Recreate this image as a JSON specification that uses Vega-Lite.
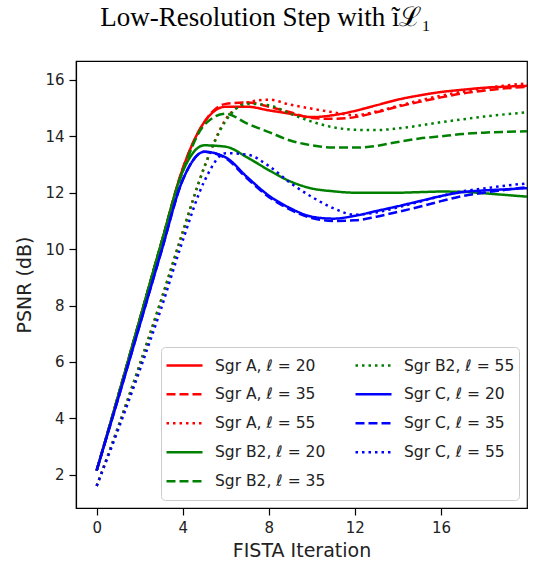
{
  "$schema": "https://vega.github.io/schema/vega-lite/v6.json",
  "autosize": {"type": "none"},
  "width": 451,
  "height": 447,
  "padding": {"left": 76, "top": 61, "right": 10, "bottom": 61},
  "title": {
    "text": "Low-Resolution Step with ĩℒ₁",
    "font": "Liberation Serif",
    "fontSize": 27,
    "fontWeight": "normal",
    "color": "#000000",
    "anchor": "middle",
    "frame": "group",
    "baseline": "bottom",
    "offset": 2,
    "dx": -36
  },
  "config": {
    "view": {"stroke": "#000000", "strokeWidth": 1.2},
    "axis": {
      "grid": false,
      "domainColor": "#000000",
      "domainWidth": 1.2,
      "tickColor": "#000000",
      "tickWidth": 1.2,
      "tickSize": 7,
      "labelPadding": 5,
      "labelFont": "DejaVu Sans",
      "labelFontSize": 15,
      "labelColor": "#222222",
      "titleFont": "DejaVu Sans",
      "titleFontSize": 19,
      "titleFontWeight": "normal",
      "titleColor": "#222222"
    },
    "legend": {
      "labelFont": "DejaVu Sans",
      "labelFontSize": 15.5,
      "labelColor": "#222222"
    }
  },
  "data": {
    "values": [
      {"series": "Sgr A, ℓ = 20", "x": 0, "y": 2.15},
      {"series": "Sgr A, ℓ = 20", "x": 1, "y": 4.8},
      {"series": "Sgr A, ℓ = 20", "x": 2, "y": 7.5},
      {"series": "Sgr A, ℓ = 20", "x": 3, "y": 10.2},
      {"series": "Sgr A, ℓ = 20", "x": 4, "y": 12.85},
      {"series": "Sgr A, ℓ = 20", "x": 5, "y": 14.5},
      {"series": "Sgr A, ℓ = 20", "x": 6, "y": 15.05},
      {"series": "Sgr A, ℓ = 20", "x": 7, "y": 15.05},
      {"series": "Sgr A, ℓ = 20", "x": 8, "y": 14.92},
      {"series": "Sgr A, ℓ = 20", "x": 9, "y": 14.8},
      {"series": "Sgr A, ℓ = 20", "x": 10, "y": 14.68},
      {"series": "Sgr A, ℓ = 20", "x": 11, "y": 14.75},
      {"series": "Sgr A, ℓ = 20", "x": 12, "y": 14.9},
      {"series": "Sgr A, ℓ = 20", "x": 13, "y": 15.1},
      {"series": "Sgr A, ℓ = 20", "x": 14, "y": 15.3},
      {"series": "Sgr A, ℓ = 20", "x": 15, "y": 15.45},
      {"series": "Sgr A, ℓ = 20", "x": 16, "y": 15.57},
      {"series": "Sgr A, ℓ = 20", "x": 17, "y": 15.65},
      {"series": "Sgr A, ℓ = 20", "x": 18, "y": 15.72},
      {"series": "Sgr A, ℓ = 20", "x": 19, "y": 15.76},
      {"series": "Sgr A, ℓ = 20", "x": 20, "y": 15.79},

      {"series": "Sgr A, ℓ = 35", "x": 0, "y": 2.15},
      {"series": "Sgr A, ℓ = 35", "x": 1, "y": 4.8},
      {"series": "Sgr A, ℓ = 35", "x": 2, "y": 7.5},
      {"series": "Sgr A, ℓ = 35", "x": 3, "y": 10.2},
      {"series": "Sgr A, ℓ = 35", "x": 4, "y": 12.85},
      {"series": "Sgr A, ℓ = 35", "x": 5, "y": 14.5},
      {"series": "Sgr A, ℓ = 35", "x": 6, "y": 15.15},
      {"series": "Sgr A, ℓ = 35", "x": 7, "y": 15.2},
      {"series": "Sgr A, ℓ = 35", "x": 8, "y": 15.05},
      {"series": "Sgr A, ℓ = 35", "x": 9, "y": 14.85},
      {"series": "Sgr A, ℓ = 35", "x": 10, "y": 14.65},
      {"series": "Sgr A, ℓ = 35", "x": 11, "y": 14.62},
      {"series": "Sgr A, ℓ = 35", "x": 12, "y": 14.68},
      {"series": "Sgr A, ℓ = 35", "x": 13, "y": 14.85},
      {"series": "Sgr A, ℓ = 35", "x": 14, "y": 15.05},
      {"series": "Sgr A, ℓ = 35", "x": 15, "y": 15.22},
      {"series": "Sgr A, ℓ = 35", "x": 16, "y": 15.38},
      {"series": "Sgr A, ℓ = 35", "x": 17, "y": 15.52},
      {"series": "Sgr A, ℓ = 35", "x": 18, "y": 15.62},
      {"series": "Sgr A, ℓ = 35", "x": 19, "y": 15.7},
      {"series": "Sgr A, ℓ = 35", "x": 20, "y": 15.75},

      {"series": "Sgr A, ℓ = 55", "x": 0, "y": 1.6},
      {"series": "Sgr A, ℓ = 55", "x": 1, "y": 3.7},
      {"series": "Sgr A, ℓ = 55", "x": 2, "y": 5.9},
      {"series": "Sgr A, ℓ = 55", "x": 3, "y": 8.2},
      {"series": "Sgr A, ℓ = 55", "x": 4, "y": 10.6},
      {"series": "Sgr A, ℓ = 55", "x": 5, "y": 12.9},
      {"series": "Sgr A, ℓ = 55", "x": 6, "y": 14.6},
      {"series": "Sgr A, ℓ = 55", "x": 7, "y": 15.2},
      {"series": "Sgr A, ℓ = 55", "x": 8, "y": 15.3},
      {"series": "Sgr A, ℓ = 55", "x": 9, "y": 15.12},
      {"series": "Sgr A, ℓ = 55", "x": 10, "y": 14.98},
      {"series": "Sgr A, ℓ = 55", "x": 11, "y": 14.85},
      {"series": "Sgr A, ℓ = 55", "x": 12, "y": 14.75},
      {"series": "Sgr A, ℓ = 55", "x": 13, "y": 14.88},
      {"series": "Sgr A, ℓ = 55", "x": 14, "y": 15.08},
      {"series": "Sgr A, ℓ = 55", "x": 15, "y": 15.27},
      {"series": "Sgr A, ℓ = 55", "x": 16, "y": 15.44},
      {"series": "Sgr A, ℓ = 55", "x": 17, "y": 15.58},
      {"series": "Sgr A, ℓ = 55", "x": 18, "y": 15.7},
      {"series": "Sgr A, ℓ = 55", "x": 19, "y": 15.8},
      {"series": "Sgr A, ℓ = 55", "x": 20, "y": 15.88},

      {"series": "Sgr B2, ℓ = 20", "x": 0, "y": 2.15},
      {"series": "Sgr B2, ℓ = 20", "x": 1, "y": 4.8},
      {"series": "Sgr B2, ℓ = 20", "x": 2, "y": 7.5},
      {"series": "Sgr B2, ℓ = 20", "x": 3, "y": 10.2},
      {"series": "Sgr B2, ℓ = 20", "x": 4, "y": 12.75},
      {"series": "Sgr B2, ℓ = 20", "x": 5, "y": 13.68},
      {"series": "Sgr B2, ℓ = 20", "x": 6, "y": 13.63},
      {"series": "Sgr B2, ℓ = 20", "x": 7, "y": 13.25},
      {"series": "Sgr B2, ℓ = 20", "x": 8, "y": 12.8},
      {"series": "Sgr B2, ℓ = 20", "x": 9, "y": 12.4},
      {"series": "Sgr B2, ℓ = 20", "x": 10, "y": 12.15},
      {"series": "Sgr B2, ℓ = 20", "x": 11, "y": 12.05},
      {"series": "Sgr B2, ℓ = 20", "x": 12, "y": 12.0},
      {"series": "Sgr B2, ℓ = 20", "x": 13, "y": 12.0},
      {"series": "Sgr B2, ℓ = 20", "x": 14, "y": 12.0},
      {"series": "Sgr B2, ℓ = 20", "x": 15, "y": 12.02},
      {"series": "Sgr B2, ℓ = 20", "x": 16, "y": 12.04},
      {"series": "Sgr B2, ℓ = 20", "x": 17, "y": 12.03},
      {"series": "Sgr B2, ℓ = 20", "x": 18, "y": 11.98},
      {"series": "Sgr B2, ℓ = 20", "x": 19, "y": 11.92},
      {"series": "Sgr B2, ℓ = 20", "x": 20, "y": 11.86},

      {"series": "Sgr B2, ℓ = 35", "x": 0, "y": 2.15},
      {"series": "Sgr B2, ℓ = 35", "x": 1, "y": 4.8},
      {"series": "Sgr B2, ℓ = 35", "x": 2, "y": 7.5},
      {"series": "Sgr B2, ℓ = 35", "x": 3, "y": 10.2},
      {"series": "Sgr B2, ℓ = 35", "x": 4, "y": 12.75},
      {"series": "Sgr B2, ℓ = 35", "x": 5, "y": 14.4},
      {"series": "Sgr B2, ℓ = 35", "x": 6, "y": 14.8},
      {"series": "Sgr B2, ℓ = 35", "x": 7, "y": 14.45},
      {"series": "Sgr B2, ℓ = 35", "x": 8, "y": 14.15},
      {"series": "Sgr B2, ℓ = 35", "x": 9, "y": 13.85},
      {"series": "Sgr B2, ℓ = 35", "x": 10, "y": 13.68},
      {"series": "Sgr B2, ℓ = 35", "x": 11, "y": 13.6},
      {"series": "Sgr B2, ℓ = 35", "x": 12, "y": 13.6},
      {"series": "Sgr B2, ℓ = 35", "x": 13, "y": 13.66},
      {"series": "Sgr B2, ℓ = 35", "x": 14, "y": 13.8},
      {"series": "Sgr B2, ℓ = 35", "x": 15, "y": 13.92},
      {"series": "Sgr B2, ℓ = 35", "x": 16, "y": 14.0},
      {"series": "Sgr B2, ℓ = 35", "x": 17, "y": 14.08},
      {"series": "Sgr B2, ℓ = 35", "x": 18, "y": 14.13},
      {"series": "Sgr B2, ℓ = 35", "x": 19, "y": 14.16},
      {"series": "Sgr B2, ℓ = 35", "x": 20, "y": 14.18},

      {"series": "Sgr B2, ℓ = 55", "x": 0, "y": 1.6},
      {"series": "Sgr B2, ℓ = 55", "x": 1, "y": 3.7},
      {"series": "Sgr B2, ℓ = 55", "x": 2, "y": 5.9},
      {"series": "Sgr B2, ℓ = 55", "x": 3, "y": 8.2},
      {"series": "Sgr B2, ℓ = 55", "x": 4, "y": 10.6},
      {"series": "Sgr B2, ℓ = 55", "x": 5, "y": 12.9},
      {"series": "Sgr B2, ℓ = 55", "x": 6, "y": 14.55},
      {"series": "Sgr B2, ℓ = 55", "x": 7, "y": 15.15},
      {"series": "Sgr B2, ℓ = 55", "x": 8, "y": 15.1},
      {"series": "Sgr B2, ℓ = 55", "x": 9, "y": 14.8},
      {"series": "Sgr B2, ℓ = 55", "x": 10, "y": 14.52},
      {"series": "Sgr B2, ℓ = 55", "x": 11, "y": 14.32},
      {"series": "Sgr B2, ℓ = 55", "x": 12, "y": 14.23},
      {"series": "Sgr B2, ℓ = 55", "x": 13, "y": 14.22},
      {"series": "Sgr B2, ℓ = 55", "x": 14, "y": 14.28},
      {"series": "Sgr B2, ℓ = 55", "x": 15, "y": 14.38},
      {"series": "Sgr B2, ℓ = 55", "x": 16, "y": 14.5},
      {"series": "Sgr B2, ℓ = 55", "x": 17, "y": 14.6},
      {"series": "Sgr B2, ℓ = 55", "x": 18, "y": 14.7},
      {"series": "Sgr B2, ℓ = 55", "x": 19, "y": 14.78},
      {"series": "Sgr B2, ℓ = 55", "x": 20, "y": 14.85},

      {"series": "Sgr C, ℓ = 20", "x": 0, "y": 2.15},
      {"series": "Sgr C, ℓ = 20", "x": 1, "y": 4.7},
      {"series": "Sgr C, ℓ = 20", "x": 2, "y": 7.3},
      {"series": "Sgr C, ℓ = 20", "x": 3, "y": 9.9},
      {"series": "Sgr C, ℓ = 20", "x": 4, "y": 12.45},
      {"series": "Sgr C, ℓ = 20", "x": 5, "y": 13.45},
      {"series": "Sgr C, ℓ = 20", "x": 6, "y": 13.25},
      {"series": "Sgr C, ℓ = 20", "x": 7, "y": 12.55},
      {"series": "Sgr C, ℓ = 20", "x": 8, "y": 11.9},
      {"series": "Sgr C, ℓ = 20", "x": 9, "y": 11.45},
      {"series": "Sgr C, ℓ = 20", "x": 10, "y": 11.15},
      {"series": "Sgr C, ℓ = 20", "x": 11, "y": 11.08},
      {"series": "Sgr C, ℓ = 20", "x": 12, "y": 11.18},
      {"series": "Sgr C, ℓ = 20", "x": 13, "y": 11.35},
      {"series": "Sgr C, ℓ = 20", "x": 14, "y": 11.52},
      {"series": "Sgr C, ℓ = 20", "x": 15, "y": 11.7},
      {"series": "Sgr C, ℓ = 20", "x": 16, "y": 11.88},
      {"series": "Sgr C, ℓ = 20", "x": 17, "y": 12.02},
      {"series": "Sgr C, ℓ = 20", "x": 18, "y": 12.08},
      {"series": "Sgr C, ℓ = 20", "x": 19, "y": 12.12},
      {"series": "Sgr C, ℓ = 20", "x": 20, "y": 12.16},

      {"series": "Sgr C, ℓ = 35", "x": 0, "y": 2.15},
      {"series": "Sgr C, ℓ = 35", "x": 1, "y": 4.7},
      {"series": "Sgr C, ℓ = 35", "x": 2, "y": 7.3},
      {"series": "Sgr C, ℓ = 35", "x": 3, "y": 9.9},
      {"series": "Sgr C, ℓ = 35", "x": 4, "y": 12.45},
      {"series": "Sgr C, ℓ = 35", "x": 5, "y": 13.45},
      {"series": "Sgr C, ℓ = 35", "x": 6, "y": 13.22},
      {"series": "Sgr C, ℓ = 35", "x": 7, "y": 12.5},
      {"series": "Sgr C, ℓ = 35", "x": 8, "y": 11.85},
      {"series": "Sgr C, ℓ = 35", "x": 9, "y": 11.4},
      {"series": "Sgr C, ℓ = 35", "x": 10, "y": 11.1},
      {"series": "Sgr C, ℓ = 35", "x": 11, "y": 11.0},
      {"series": "Sgr C, ℓ = 35", "x": 12, "y": 11.02},
      {"series": "Sgr C, ℓ = 35", "x": 13, "y": 11.15},
      {"series": "Sgr C, ℓ = 35", "x": 14, "y": 11.32},
      {"series": "Sgr C, ℓ = 35", "x": 15, "y": 11.5},
      {"series": "Sgr C, ℓ = 35", "x": 16, "y": 11.7},
      {"series": "Sgr C, ℓ = 35", "x": 17, "y": 11.88},
      {"series": "Sgr C, ℓ = 35", "x": 18, "y": 12.0},
      {"series": "Sgr C, ℓ = 35", "x": 19, "y": 12.1},
      {"series": "Sgr C, ℓ = 35", "x": 20, "y": 12.2},

      {"series": "Sgr C, ℓ = 55", "x": 0, "y": 1.6},
      {"series": "Sgr C, ℓ = 55", "x": 1, "y": 3.6},
      {"series": "Sgr C, ℓ = 55", "x": 2, "y": 5.7},
      {"series": "Sgr C, ℓ = 55", "x": 3, "y": 7.9},
      {"series": "Sgr C, ℓ = 55", "x": 4, "y": 10.3},
      {"series": "Sgr C, ℓ = 55", "x": 5, "y": 12.4},
      {"series": "Sgr C, ℓ = 55", "x": 6, "y": 13.4},
      {"series": "Sgr C, ℓ = 55", "x": 7, "y": 13.35},
      {"series": "Sgr C, ℓ = 55", "x": 8, "y": 12.95},
      {"series": "Sgr C, ℓ = 55", "x": 9, "y": 12.35},
      {"series": "Sgr C, ℓ = 55", "x": 10, "y": 11.85},
      {"series": "Sgr C, ℓ = 55", "x": 11, "y": 11.45},
      {"series": "Sgr C, ℓ = 55", "x": 12, "y": 11.22},
      {"series": "Sgr C, ℓ = 55", "x": 13, "y": 11.3},
      {"series": "Sgr C, ℓ = 55", "x": 14, "y": 11.48},
      {"series": "Sgr C, ℓ = 55", "x": 15, "y": 11.68},
      {"series": "Sgr C, ℓ = 55", "x": 16, "y": 11.88},
      {"series": "Sgr C, ℓ = 55", "x": 17, "y": 12.05},
      {"series": "Sgr C, ℓ = 55", "x": 18, "y": 12.15},
      {"series": "Sgr C, ℓ = 55", "x": 19, "y": 12.25},
      {"series": "Sgr C, ℓ = 55", "x": 20, "y": 12.33}
    ]
  },
  "mark": {"type": "line", "strokeWidth": 2.5, "interpolate": "monotone", "clip": true},
  "encoding": {
    "x": {
      "field": "x",
      "type": "quantitative",
      "title": "FISTA Iteration",
      "scale": {"domain": [-0.96, 20], "nice": false, "zero": false},
      "axis": {"values": [0, 4, 8, 12, 16], "titlePadding": 6}
    },
    "y": {
      "field": "y",
      "type": "quantitative",
      "title": "PSNR (dB)",
      "scale": {"domain": [0.82, 16.67], "nice": false, "zero": false},
      "axis": {"values": [2, 4, 6, 8, 10, 12, 14, 16], "titlePadding": 10}
    },
    "color": {
      "field": "series",
      "type": "nominal",
      "scale": {
        "domain": ["Sgr A, ℓ = 20", "Sgr A, ℓ = 35", "Sgr A, ℓ = 55", "Sgr B2, ℓ = 20", "Sgr B2, ℓ = 35", "Sgr B2, ℓ = 55", "Sgr C, ℓ = 20", "Sgr C, ℓ = 35", "Sgr C, ℓ = 55"],
        "range": ["#ff0000", "#ff0000", "#ff0000", "#008000", "#008000", "#008000", "#0000ff", "#0000ff", "#0000ff"]
      },
      "legend": {
        "title": null,
        "orient": "bottom-right",
        "offset": 8,
        "columns": 2,
        "columnPadding": 28,
        "rowPadding": 0,
        "clipHeight": 28.5,
        "symbolType": "stroke",
        "symbolSize": 1296,
        "symbolStrokeWidth": 2.5,
        "labelOffset": 11,
        "padding": 4,
        "fillColor": "rgba(255,255,255,0.8)",
        "strokeColor": "#cccccc",
        "cornerRadius": 4
      }
    },
    "strokeDash": {
      "field": "series",
      "type": "nominal",
      "scale": {
        "domain": ["Sgr A, ℓ = 20", "Sgr A, ℓ = 35", "Sgr A, ℓ = 55", "Sgr B2, ℓ = 20", "Sgr B2, ℓ = 35", "Sgr B2, ℓ = 55", "Sgr C, ℓ = 20", "Sgr C, ℓ = 35", "Sgr C, ℓ = 55"],
        "range": [[1, 0], [9, 4], [2.5, 4], [1, 0], [9, 4], [2.5, 4], [1, 0], [9, 4], [2.5, 4]]
      },
      "legend": null
    }
  }
}
